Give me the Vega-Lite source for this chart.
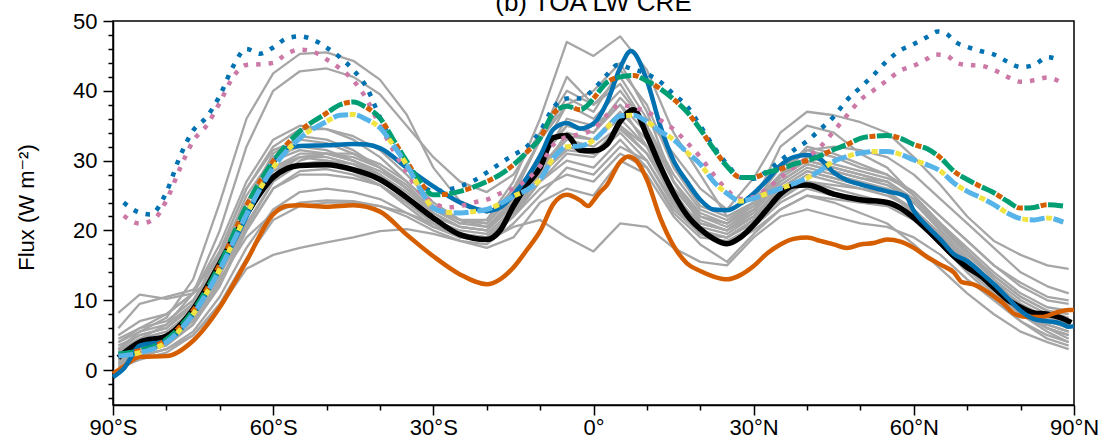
{
"$schema": "https://vega.github.io/schema/vega-lite/v6.json",
"width": 961, "height": 384,
"autosize": {"type": "none"},
"padding": {"left": 113, "top": 21, "right": 30, "bottom": 38},
"background": "white",
"title": {"text": "(b) TOA LW CRE", "fontSize": 26, "font": "Liberation Sans", "fontWeight": "normal", "color": "black", "anchor": "middle", "offset": -27, "baseline": "alphabetic"},
"config": {"view": {"stroke": "black", "strokeWidth": 1.5}, "font": "Liberation Sans"},
"datasets": {
"K": [{"x":-89,"y":1.8},{"x":-85,"y":4.0},{"x":-80,"y":4.9},{"x":-75,"y":8.7},{"x":-70,"y":15.3},{"x":-65,"y":22.3},{"x":-60,"y":27.6},{"x":-55,"y":29.3},{"x":-50,"y":29.4},{"x":-45,"y":28.7},{"x":-40,"y":27.3},{"x":-35,"y":24.7},{"x":-30,"y":21.8},{"x":-25,"y":19.4},{"x":-20,"y":18.7},{"x":-17.5,"y":20},{"x":-15,"y":23.5},{"x":-12.5,"y":26.5},{"x":-10,"y":29},{"x":-7.5,"y":33.3},{"x":-5,"y":33.6},{"x":-2.5,"y":31.5},{"x":0,"y":31.4},{"x":2.5,"y":32.3},{"x":5,"y":35.6},{"x":7.5,"y":37.3},{"x":10,"y":33.6},{"x":12.5,"y":29.2},{"x":15,"y":25.3},{"x":17.5,"y":22.2},{"x":20,"y":20.2},{"x":22.5,"y":18.8},{"x":25,"y":18.1},{"x":27.5,"y":19},{"x":30,"y":20.8},{"x":32.5,"y":23},{"x":35,"y":25.2},{"x":37.5,"y":26.4},{"x":40,"y":26.5},{"x":45,"y":25.2},{"x":50,"y":24.4},{"x":55,"y":24},{"x":57.5,"y":23.2},{"x":60,"y":21.8},{"x":62.5,"y":20.1},{"x":65,"y":18.2},{"x":67.5,"y":16.3},{"x":70,"y":14.7},{"x":72.5,"y":13.5},{"x":75,"y":11.8},{"x":77.5,"y":10.1},{"x":80,"y":9.0},{"x":82.5,"y":8.2},{"x":85,"y":8.0},{"x":87.5,"y":7.5},{"x":89.5,"y":6.8}],
"B": [{"x":-90,"y":-1.0},{"x":-88,"y":0.2},{"x":-85,"y":3.5},{"x":-80,"y":4.2},{"x":-75,"y":8},{"x":-70,"y":14.5},{"x":-65,"y":22},{"x":-62.5,"y":26},{"x":-60,"y":29.6},{"x":-57.5,"y":31.8},{"x":-55,"y":32.1},{"x":-50,"y":32.2},{"x":-45,"y":32.4},{"x":-42.5,"y":32.3},{"x":-40,"y":31.8},{"x":-35,"y":29},{"x":-30,"y":26.3},{"x":-25,"y":24},{"x":-20,"y":22.8},{"x":-17.5,"y":23.3},{"x":-15,"y":25.1},{"x":-12.5,"y":27.5},{"x":-10,"y":30.6},{"x":-7.5,"y":34.5},{"x":-5,"y":35.4},{"x":-2.5,"y":34.6},{"x":0,"y":35.3},{"x":2.5,"y":38.3},{"x":5,"y":43.3},{"x":7,"y":45.7},{"x":10,"y":41.5},{"x":12.5,"y":35},{"x":15,"y":30},{"x":17.5,"y":27},{"x":20,"y":24.4},{"x":22.5,"y":23},{"x":25,"y":22.9},{"x":27.5,"y":23.8},{"x":30,"y":25.3},{"x":32.5,"y":27.2},{"x":35,"y":29.3},{"x":37.5,"y":30.5},{"x":40,"y":30.8},{"x":42.5,"y":30.2},{"x":45,"y":28.3},{"x":47.5,"y":27.2},{"x":50,"y":26.6},{"x":55,"y":25.6},{"x":58.5,"y":24.9},{"x":60,"y":22.8},{"x":62.5,"y":20.6},{"x":65,"y":18.7},{"x":67.5,"y":16.6},{"x":70,"y":15.6},{"x":72.5,"y":14},{"x":75,"y":12.3},{"x":77.5,"y":10.4},{"x":80,"y":8.5},{"x":82.5,"y":7.3},{"x":85,"y":7.0},{"x":87.5,"y":6.7},{"x":89,"y":6.2},{"x":90,"y":6.3}],
"O": [{"x":-90,"y":-0.5},{"x":-88,"y":0.5},{"x":-85,"y":1.9},{"x":-80,"y":2.0},{"x":-75,"y":4.2},{"x":-70,"y":9.0},{"x":-65,"y":15.6},{"x":-60,"y":22.3},{"x":-57.5,"y":23.5},{"x":-55,"y":23.6},{"x":-50,"y":23.4},{"x":-45,"y":23.6},{"x":-40,"y":22.7},{"x":-35,"y":19.4},{"x":-30,"y":16.3},{"x":-25,"y":13.7},{"x":-20,"y":12.3},{"x":-17.5,"y":13},{"x":-15,"y":14.7},{"x":-12.5,"y":17.2},{"x":-10,"y":19.9},{"x":-7.5,"y":23.8},{"x":-5,"y":25.1},{"x":-2.5,"y":24.3},{"x":-1,"y":23.5},{"x":0,"y":24.3},{"x":1,"y":25.3},{"x":2.5,"y":26.5},{"x":5,"y":29.8},{"x":6.5,"y":30.6},{"x":8,"y":30.0},{"x":10,"y":27.3},{"x":12.5,"y":21.8},{"x":15,"y":17.8},{"x":17.5,"y":15.3},{"x":20,"y":14.2},{"x":22.5,"y":13.4},{"x":25,"y":13},{"x":27.5,"y":13.6},{"x":30,"y":14.9},{"x":32.5,"y":16.7},{"x":35,"y":18},{"x":37.5,"y":18.8},{"x":40,"y":19},{"x":42.5,"y":18.5},{"x":45,"y":18},{"x":47.5,"y":17.5},{"x":50,"y":18},{"x":52.5,"y":18.2},{"x":55,"y":18.7},{"x":57.5,"y":18.4},{"x":60,"y":17.5},{"x":62.5,"y":16.2},{"x":65,"y":15.1},{"x":67.5,"y":14},{"x":69,"y":12.6},{"x":71,"y":12.3},{"x":74,"y":11.1},{"x":76.5,"y":9.7},{"x":79,"y":8},{"x":81.5,"y":7.6},{"x":84,"y":7.6},{"x":86.5,"y":8.2},{"x":89,"y":8.6},{"x":90,"y":8.6}],
"UD": [{"x":-89,"y":2.3},{"x":-85,"y":2.8},{"x":-80,"y":4.4},{"x":-75,"y":8.5},{"x":-70,"y":15.1},{"x":-65,"y":23.5},{"x":-60,"y":29.9},{"x":-55,"y":34.2},{"x":-50,"y":36.8},{"x":-47.5,"y":38},{"x":-45,"y":38.4},{"x":-42.5,"y":37.6},{"x":-40,"y":36.1},{"x":-37.5,"y":33},{"x":-35,"y":29.9},{"x":-32.5,"y":27},{"x":-30,"y":25.1},{"x":-27.5,"y":25.2},{"x":-25,"y":25.6},{"x":-22.5,"y":26.2},{"x":-20,"y":27},{"x":-17.5,"y":28},{"x":-15,"y":29.4},{"x":-12.5,"y":31.2},{"x":-10,"y":33.2},{"x":-7.5,"y":36.8},{"x":-5,"y":37.8},{"x":-2.5,"y":37.3},{"x":-1,"y":38},{"x":0,"y":38.9},{"x":2.5,"y":41.2},{"x":5,"y":42},{"x":7.5,"y":42.2},{"x":10,"y":41.4},{"x":12.5,"y":40.3},{"x":15,"y":38.8},{"x":17.5,"y":37},{"x":20,"y":34.5},{"x":22.5,"y":31.7},{"x":25,"y":29.2},{"x":27.5,"y":27.6},{"x":30,"y":27.6},{"x":32.5,"y":28.3},{"x":35,"y":28.8},{"x":37.5,"y":29.5},{"x":40,"y":30},{"x":42.5,"y":30.7},{"x":45,"y":31.6},{"x":47.5,"y":32.3},{"x":50,"y":33.2},{"x":52.5,"y":33.5},{"x":55,"y":33.6},{"x":57.5,"y":33.2},{"x":60,"y":32.3},{"x":62.5,"y":31.7},{"x":65,"y":30.4},{"x":67.5,"y":28.5},{"x":70,"y":27.3},{"x":72.5,"y":26.3},{"x":75,"y":25.4},{"x":77.5,"y":24.2},{"x":80,"y":23.2},{"x":82.5,"y":23.3},{"x":85,"y":23.7},{"x":88,"y":23.5}],
"LD": [{"x":-89,"y":2.0},{"x":-85,"y":2.5},{"x":-80,"y":4.0},{"x":-75,"y":8},{"x":-70,"y":14.4},{"x":-65,"y":22.3},{"x":-60,"y":29},{"x":-55,"y":33.2},{"x":-50,"y":35.6},{"x":-47.5,"y":36.5},{"x":-45,"y":36.6},{"x":-42.5,"y":35.9},{"x":-40,"y":34.7},{"x":-37.5,"y":32.2},{"x":-35,"y":29.4},{"x":-32.5,"y":26},{"x":-30,"y":23.2},{"x":-27.5,"y":22.6},{"x":-25,"y":22.5},{"x":-22.5,"y":22.7},{"x":-20,"y":23},{"x":-17.5,"y":23.8},{"x":-15,"y":24.9},{"x":-12.5,"y":25.8},{"x":-10,"y":27.3},{"x":-7.5,"y":30.4},{"x":-5,"y":32},{"x":-2.5,"y":32.1},{"x":0,"y":32.9},{"x":2.5,"y":34.7},{"x":5,"y":36.4},{"x":7.5,"y":36.5},{"x":10,"y":35.6},{"x":12.5,"y":34.2},{"x":15,"y":33},{"x":17.5,"y":31.2},{"x":20,"y":29.5},{"x":22.5,"y":27},{"x":25,"y":25.3},{"x":27.5,"y":24.2},{"x":30,"y":24.6},{"x":32.5,"y":25.3},{"x":35,"y":26},{"x":37.5,"y":26.7},{"x":40,"y":27.5},{"x":42.5,"y":28.6},{"x":45,"y":29.9},{"x":47.5,"y":30.6},{"x":50,"y":31.1},{"x":52.5,"y":31.3},{"x":55,"y":31.3},{"x":57.5,"y":30.9},{"x":60,"y":30.1},{"x":62.5,"y":29.4},{"x":65,"y":28.5},{"x":67.5,"y":26.8},{"x":70,"y":25.6},{"x":72.5,"y":24.7},{"x":75,"y":23.7},{"x":77.5,"y":22.5},{"x":80,"y":21.7},{"x":82.5,"y":21.5},{"x":85,"y":21.8},{"x":88,"y":21.2}],
"BD": [{"x":-88,"y":24.0},{"x":-85.5,"y":22.7},{"x":-83,"y":22.3},{"x":-80,"y":25.5},{"x":-77.5,"y":30.5},{"x":-75,"y":34.3},{"x":-72.5,"y":36.2},{"x":-70,"y":39.3},{"x":-67.5,"y":43.5},{"x":-65,"y":46.0},{"x":-62.5,"y":45.3},{"x":-60,"y":46.2},{"x":-57.5,"y":47.5},{"x":-55,"y":47.8},{"x":-52.5,"y":47.3},{"x":-50,"y":46.2},{"x":-47.5,"y":44.8},{"x":-45,"y":43},{"x":-42.5,"y":40.5},{"x":-40,"y":36.2},{"x":-37.5,"y":32.5},{"x":-35,"y":29.5},{"x":-32.5,"y":26.8},{"x":-30,"y":25.6},{"x":-27.5,"y":25.8},{"x":-25,"y":26.3},{"x":-22.5,"y":27.1},{"x":-20,"y":28.3},{"x":-17.5,"y":29.6},{"x":-15,"y":30.8},{"x":-12.5,"y":32},{"x":-10,"y":34.2},{"x":-7.5,"y":37.6},{"x":-5,"y":38.9},{"x":-2.5,"y":38.9},{"x":0,"y":40.2},{"x":2.5,"y":42.3},{"x":4.5,"y":43.7},{"x":7,"y":43.2},{"x":10,"y":42.4},{"x":12.5,"y":41.3},{"x":15,"y":39.5},{"x":17.5,"y":37.8},{"x":20,"y":35},{"x":22.5,"y":32},{"x":25,"y":29.5},{"x":27.5,"y":27.6},{"x":30,"y":27.4},{"x":32.5,"y":28.5},{"x":35,"y":30},{"x":37.5,"y":31.5},{"x":40,"y":32.8},{"x":42.5,"y":34.5},{"x":45,"y":36.3},{"x":47.5,"y":38.7},{"x":50,"y":40.5},{"x":52.5,"y":42.3},{"x":55,"y":44.3},{"x":57.5,"y":45.8},{"x":60,"y":46.7},{"x":62.5,"y":47.7},{"x":64.5,"y":48.5},{"x":66,"y":48.2},{"x":68,"y":46.9},{"x":70,"y":46.3},{"x":72.5,"y":45.7},{"x":75,"y":45.2},{"x":77.5,"y":44.2},{"x":80,"y":43.4},{"x":82.5,"y":43.7},{"x":85,"y":44.8},{"x":87.5,"y":44.4}],
"PD": [{"x":-88,"y":22.1},{"x":-85,"y":21.0},{"x":-82.5,"y":21.5},{"x":-80,"y":24.3},{"x":-77.5,"y":28.8},{"x":-75,"y":32.8},{"x":-72.5,"y":35.0},{"x":-70,"y":38.3},{"x":-67.5,"y":42.0},{"x":-65,"y":43.7},{"x":-62.5,"y":43.8},{"x":-60,"y":44.0},{"x":-57.5,"y":45.3},{"x":-55,"y":45.9},{"x":-52.5,"y":45.6},{"x":-50,"y":44.5},{"x":-47.5,"y":43.2},{"x":-45,"y":41.5},{"x":-42.5,"y":38.8},{"x":-40,"y":35},{"x":-37.5,"y":31.5},{"x":-35,"y":28.3},{"x":-32.5,"y":25.5},{"x":-30,"y":24.0},{"x":-27.5,"y":23.3},{"x":-25,"y":23.5},{"x":-22.5,"y":24},{"x":-20,"y":24.4},{"x":-17.5,"y":25.3},{"x":-15,"y":26},{"x":-12.5,"y":27.3},{"x":-10,"y":29.2},{"x":-7.5,"y":32.3},{"x":-5,"y":33.4},{"x":-2.5,"y":33.8},{"x":0,"y":34.5},{"x":2.5,"y":36.5},{"x":5,"y":38},{"x":7.5,"y":37.6},{"x":10,"y":37},{"x":12.5,"y":35.8},{"x":15,"y":34.5},{"x":17.5,"y":32.6},{"x":20,"y":30.5},{"x":22.5,"y":28},{"x":25,"y":25.8},{"x":27.5,"y":24.5},{"x":30,"y":24.8},{"x":32.5,"y":26},{"x":35,"y":27.5},{"x":37.5,"y":29},{"x":40,"y":30.4},{"x":42.5,"y":32},{"x":45,"y":34.2},{"x":47.5,"y":36.5},{"x":50,"y":38.7},{"x":52.5,"y":40.1},{"x":55,"y":41.5},{"x":57.5,"y":42.9},{"x":60,"y":43.6},{"x":62.5,"y":44.6},{"x":64,"y":45.2},{"x":66,"y":45.1},{"x":68,"y":44},{"x":70,"y":43.7},{"x":72.5,"y":43.6},{"x":75,"y":43.0},{"x":77.5,"y":42},{"x":80,"y":41.3},{"x":82.5,"y":41.5},{"x":85,"y":41.9},{"x":87.8,"y":41.1}],
"G": [
{"s":1,"x":-89,"y":3.0},{"s":1,"x":-85,"y":5.5},{"s":1,"x":-80,"y":7.5},{"s":1,"x":-75,"y":13},{"s":1,"x":-70,"y":24},{"s":1,"x":-65,"y":36},{"s":1,"x":-60,"y":42.5},{"s":1,"x":-55,"y":45.3},{"s":1,"x":-50,"y":45.5},{"s":1,"x":-45,"y":44.3},{"s":1,"x":-40,"y":41.6},{"s":1,"x":-35,"y":36.6},{"s":1,"x":-30,"y":29},{"s":1,"x":-25,"y":24.2},{"s":1,"x":-20,"y":22.5},{"s":1,"x":-15,"y":25},{"s":1,"x":-10,"y":30},{"s":1,"x":-5,"y":36},{"s":1,"x":0,"y":35},{"s":1,"x":5,"y":38},{"s":1,"x":10,"y":32},{"s":1,"x":15,"y":26},{"s":1,"x":20,"y":22},{"s":1,"x":25,"y":21},{"s":1,"x":30,"y":24},{"s":1,"x":35,"y":32},{"s":1,"x":40,"y":35},{"s":1,"x":45,"y":34},{"s":1,"x":50,"y":31},{"s":1,"x":55,"y":29},{"s":1,"x":60,"y":25},{"s":1,"x":65,"y":21},{"s":1,"x":70,"y":17},{"s":1,"x":75,"y":13},{"s":1,"x":80,"y":9},{"s":1,"x":85,"y":6},{"s":1,"x":89,"y":4.5},
{"s":2,"x":-89,"y":2.5},{"s":2,"x":-85,"y":4.5},{"s":2,"x":-80,"y":6.5},{"s":2,"x":-75,"y":11},{"s":2,"x":-70,"y":20},{"s":2,"x":-65,"y":32},{"s":2,"x":-60,"y":40},{"s":2,"x":-55,"y":42.8},{"s":2,"x":-50,"y":43.2},{"s":2,"x":-45,"y":42},{"s":2,"x":-40,"y":39.5},{"s":2,"x":-35,"y":35},{"s":2,"x":-30,"y":30.5},{"s":2,"x":-25,"y":27},{"s":2,"x":-20,"y":25.5},{"s":2,"x":-15,"y":28},{"s":2,"x":-10,"y":34},{"s":2,"x":-5,"y":40},{"s":2,"x":0,"y":38},{"s":2,"x":5,"y":42},{"s":2,"x":10,"y":36},{"s":2,"x":15,"y":31},{"s":2,"x":20,"y":26},{"s":2,"x":25,"y":23},{"s":2,"x":30,"y":27.5},{"s":2,"x":35,"y":34},{"s":2,"x":40,"y":37},{"s":2,"x":45,"y":36.5},{"s":2,"x":50,"y":35.5},{"s":2,"x":55,"y":34},{"s":2,"x":60,"y":30.5},{"s":2,"x":65,"y":26.5},{"s":2,"x":70,"y":22},{"s":2,"x":75,"y":18.5},{"s":2,"x":80,"y":16.5},{"s":2,"x":85,"y":15},{"s":2,"x":89,"y":14.5},
{"s":3,"x":-89,"y":4},{"s":3,"x":-85,"y":6},{"s":3,"x":-80,"y":8},{"s":3,"x":-75,"y":11},{"s":3,"x":-70,"y":17},{"s":3,"x":-65,"y":24},{"s":3,"x":-60,"y":29},{"s":3,"x":-55,"y":31},{"s":3,"x":-50,"y":31},{"s":3,"x":-45,"y":30.5},{"s":3,"x":-40,"y":29},{"s":3,"x":-35,"y":26.5},{"s":3,"x":-30,"y":23},{"s":3,"x":-25,"y":21},{"s":3,"x":-20,"y":21.5},{"s":3,"x":-15,"y":27},{"s":3,"x":-10,"y":36},{"s":3,"x":-5,"y":47},{"s":3,"x":0,"y":45},{"s":3,"x":5,"y":47.8},{"s":3,"x":10,"y":43},{"s":3,"x":15,"y":34},{"s":3,"x":20,"y":28},{"s":3,"x":25,"y":22},{"s":3,"x":30,"y":24},{"s":3,"x":35,"y":28},{"s":3,"x":40,"y":30},{"s":3,"x":45,"y":29},{"s":3,"x":50,"y":28},{"s":3,"x":55,"y":27},{"s":3,"x":60,"y":24},{"s":3,"x":65,"y":20},{"s":3,"x":70,"y":16},{"s":3,"x":75,"y":12},{"s":3,"x":80,"y":8.5},{"s":3,"x":85,"y":6},{"s":3,"x":89,"y":5},
{"s":4,"x":-89,"y":1.5},{"s":4,"x":-85,"y":3},{"s":4,"x":-80,"y":4},{"s":4,"x":-75,"y":7},{"s":4,"x":-70,"y":13},{"s":4,"x":-65,"y":19},{"s":4,"x":-60,"y":22.5},{"s":4,"x":-55,"y":24},{"s":4,"x":-50,"y":24.3},{"s":4,"x":-45,"y":24.2},{"s":4,"x":-40,"y":23.5},{"s":4,"x":-35,"y":22.5},{"s":4,"x":-30,"y":21},{"s":4,"x":-25,"y":19.5},{"s":4,"x":-20,"y":18.5},{"s":4,"x":-15,"y":20.5},{"s":4,"x":-10,"y":21.5},{"s":4,"x":-5,"y":19},{"s":4,"x":0,"y":17},{"s":4,"x":5,"y":21},{"s":4,"x":10,"y":20.5},{"s":4,"x":15,"y":17.5},{"s":4,"x":20,"y":15.5},{"s":4,"x":25,"y":15},{"s":4,"x":30,"y":19},{"s":4,"x":35,"y":22},{"s":4,"x":40,"y":23},{"s":4,"x":45,"y":22},{"s":4,"x":50,"y":21},{"s":4,"x":55,"y":20.5},{"s":4,"x":60,"y":19},{"s":4,"x":65,"y":16.5},{"s":4,"x":70,"y":13},{"s":4,"x":75,"y":10},{"s":4,"x":80,"y":7},{"s":4,"x":85,"y":5},{"s":4,"x":89,"y":4},
{"s":5,"x":-89,"y":0.5},{"s":5,"x":-85,"y":2},{"s":5,"x":-80,"y":3},{"s":5,"x":-75,"y":5},{"s":5,"x":-70,"y":9},{"s":5,"x":-65,"y":14.5},{"s":5,"x":-60,"y":16.5},{"s":5,"x":-55,"y":17.5},{"s":5,"x":-50,"y":18.3},{"s":5,"x":-45,"y":19},{"s":5,"x":-40,"y":19.9},{"s":5,"x":-35,"y":20.2},{"s":5,"x":-30,"y":19.5},{"s":5,"x":-25,"y":18.5},{"s":5,"x":-20,"y":17.5},{"s":5,"x":-15,"y":19},{"s":5,"x":-10,"y":24},{"s":5,"x":-5,"y":26},{"s":5,"x":0,"y":25},{"s":5,"x":5,"y":30},{"s":5,"x":10,"y":28},{"s":5,"x":15,"y":22},{"s":5,"x":20,"y":18},{"s":5,"x":25,"y":15.5},{"s":5,"x":30,"y":19.5},{"s":5,"x":35,"y":23},{"s":5,"x":40,"y":25},{"s":5,"x":45,"y":24},{"s":5,"x":50,"y":22.5},{"s":5,"x":55,"y":21},{"s":5,"x":60,"y":18},{"s":5,"x":65,"y":14.5},{"s":5,"x":70,"y":11},{"s":5,"x":75,"y":8},{"s":5,"x":80,"y":5.5},{"s":5,"x":85,"y":4},{"s":5,"x":89,"y":3},
{"s":6,"x":-89,"y":6},{"s":6,"x":-85,"y":9.5},{"s":6,"x":-80,"y":10.5},{"s":6,"x":-75,"y":11.5},{"s":6,"x":-70,"y":16},{"s":6,"x":-65,"y":24},{"s":6,"x":-60,"y":31},{"s":6,"x":-55,"y":33.5},{"s":6,"x":-50,"y":33},{"s":6,"x":-45,"y":31.5},{"s":6,"x":-40,"y":29},{"s":6,"x":-35,"y":26},{"s":6,"x":-30,"y":23},{"s":6,"x":-25,"y":21},{"s":6,"x":-20,"y":20.5},{"s":6,"x":-15,"y":24},{"s":6,"x":-10,"y":31},{"s":6,"x":-5,"y":38},{"s":6,"x":0,"y":40},{"s":6,"x":5,"y":44},{"s":6,"x":10,"y":37},{"s":6,"x":15,"y":27},{"s":6,"x":20,"y":21},{"s":6,"x":25,"y":20},{"s":6,"x":30,"y":23},{"s":6,"x":35,"y":28},{"s":6,"x":40,"y":32},{"s":6,"x":45,"y":31},{"s":6,"x":50,"y":29.5},{"s":6,"x":55,"y":28},{"s":6,"x":60,"y":25.5},{"s":6,"x":65,"y":22},{"s":6,"x":70,"y":18.5},{"s":6,"x":75,"y":15},{"s":6,"x":80,"y":12},{"s":6,"x":85,"y":10},{"s":6,"x":89,"y":9.5},
{"s":7,"x":-89,"y":8.2},{"s":7,"x":-85,"y":10.8},{"s":7,"x":-80,"y":10.2},{"s":7,"x":-75,"y":11},{"s":7,"x":-70,"y":14},{"s":7,"x":-65,"y":20},{"s":7,"x":-60,"y":26},{"s":7,"x":-55,"y":28},{"s":7,"x":-50,"y":28},{"s":7,"x":-45,"y":27.5},{"s":7,"x":-40,"y":26.5},{"s":7,"x":-35,"y":24},{"s":7,"x":-30,"y":21},{"s":7,"x":-25,"y":19},{"s":7,"x":-20,"y":19},{"s":7,"x":-15,"y":22.5},{"s":7,"x":-10,"y":28},{"s":7,"x":-5,"y":34},{"s":7,"x":0,"y":33},{"s":7,"x":5,"y":36},{"s":7,"x":10,"y":32},{"s":7,"x":15,"y":24},{"s":7,"x":20,"y":19.5},{"s":7,"x":25,"y":19},{"s":7,"x":30,"y":21.5},{"s":7,"x":35,"y":25},{"s":7,"x":40,"y":27},{"s":7,"x":45,"y":26},{"s":7,"x":50,"y":25},{"s":7,"x":55,"y":24},{"s":7,"x":60,"y":22},{"s":7,"x":65,"y":19},{"s":7,"x":70,"y":15.5},{"s":7,"x":75,"y":12},{"s":7,"x":80,"y":9},{"s":7,"x":85,"y":7.5},{"s":7,"x":89,"y":7},
{"s":8,"x":-89,"y":1},{"s":8,"x":-85,"y":2.5},{"s":8,"x":-80,"y":3.5},{"s":8,"x":-75,"y":6.5},{"s":8,"x":-70,"y":12},{"s":8,"x":-65,"y":20},{"s":8,"x":-60,"y":26},{"s":8,"x":-55,"y":28.5},{"s":8,"x":-50,"y":28.8},{"s":8,"x":-45,"y":28},{"s":8,"x":-40,"y":26.5},{"s":8,"x":-35,"y":24},{"s":8,"x":-30,"y":21.5},{"s":8,"x":-25,"y":20},{"s":8,"x":-20,"y":19.5},{"s":8,"x":-15,"y":23},{"s":8,"x":-10,"y":28},{"s":8,"x":-5,"y":32},{"s":8,"x":0,"y":31},{"s":8,"x":5,"y":35},{"s":8,"x":10,"y":31},{"s":8,"x":15,"y":25},{"s":8,"x":20,"y":21},{"s":8,"x":25,"y":20},{"s":8,"x":30,"y":22},{"s":8,"x":35,"y":26},{"s":8,"x":40,"y":28.5},{"s":8,"x":45,"y":27.5},{"s":8,"x":50,"y":26.5},{"s":8,"x":55,"y":25.5},{"s":8,"x":60,"y":22.5},{"s":8,"x":65,"y":18.5},{"s":8,"x":70,"y":14.5},{"s":8,"x":75,"y":11},{"s":8,"x":80,"y":8},{"s":8,"x":85,"y":6},{"s":8,"x":89,"y":5},
{"s":9,"x":-89,"y":2},{"s":9,"x":-85,"y":4},{"s":9,"x":-80,"y":5},{"s":9,"x":-75,"y":8},{"s":9,"x":-70,"y":14.5},{"s":9,"x":-65,"y":23},{"s":9,"x":-60,"y":28.5},{"s":9,"x":-55,"y":30.5},{"s":9,"x":-50,"y":30.5},{"s":9,"x":-45,"y":29.5},{"s":9,"x":-40,"y":27.5},{"s":9,"x":-35,"y":25},{"s":9,"x":-30,"y":22},{"s":9,"x":-25,"y":20.5},{"s":9,"x":-20,"y":20},{"s":9,"x":-15,"y":24},{"s":9,"x":-10,"y":30},{"s":9,"x":-5,"y":35},{"s":9,"x":0,"y":34},{"s":9,"x":5,"y":38},{"s":9,"x":10,"y":34},{"s":9,"x":15,"y":27},{"s":9,"x":20,"y":22.5},{"s":9,"x":25,"y":21},{"s":9,"x":30,"y":23},{"s":9,"x":35,"y":27},{"s":9,"x":40,"y":29.5},{"s":9,"x":45,"y":28.5},{"s":9,"x":50,"y":27.5},{"s":9,"x":55,"y":26.5},{"s":9,"x":60,"y":24},{"s":9,"x":65,"y":20},{"s":9,"x":70,"y":16},{"s":9,"x":75,"y":12.5},{"s":9,"x":80,"y":9.5},{"s":9,"x":85,"y":7.5},{"s":9,"x":89,"y":6.5},
{"s":10,"x":-89,"y":3},{"s":10,"x":-85,"y":5},{"s":10,"x":-80,"y":6},{"s":10,"x":-75,"y":9},{"s":10,"x":-70,"y":16},{"s":10,"x":-65,"y":25},{"s":10,"x":-60,"y":30.5},{"s":10,"x":-55,"y":32},{"s":10,"x":-50,"y":31.5},{"s":10,"x":-45,"y":30},{"s":10,"x":-40,"y":28},{"s":10,"x":-35,"y":24.5},{"s":10,"x":-30,"y":21},{"s":10,"x":-25,"y":19},{"s":10,"x":-20,"y":18.5},{"s":10,"x":-15,"y":22},{"s":10,"x":-10,"y":27},{"s":10,"x":-5,"y":30},{"s":10,"x":0,"y":29},{"s":10,"x":5,"y":33},{"s":10,"x":10,"y":29},{"s":10,"x":15,"y":22.5},{"s":10,"x":20,"y":19},{"s":10,"x":25,"y":18.5},{"s":10,"x":30,"y":20.5},{"s":10,"x":35,"y":24},{"s":10,"x":40,"y":26},{"s":10,"x":45,"y":25},{"s":10,"x":50,"y":24.5},{"s":10,"x":55,"y":24},{"s":10,"x":60,"y":22},{"s":10,"x":65,"y":18.5},{"s":10,"x":70,"y":15},{"s":10,"x":75,"y":11.5},{"s":10,"x":80,"y":8.5},{"s":10,"x":85,"y":6.5},{"s":10,"x":89,"y":5.5},
{"s":11,"x":-89,"y":0.8},{"s":11,"x":-85,"y":2},{"s":11,"x":-80,"y":3},{"s":11,"x":-75,"y":5.5},{"s":11,"x":-70,"y":10.5},{"s":11,"x":-65,"y":17.5},{"s":11,"x":-60,"y":23},{"s":11,"x":-55,"y":25.5},{"s":11,"x":-50,"y":26},{"s":11,"x":-45,"y":25.5},{"s":11,"x":-40,"y":24.5},{"s":11,"x":-35,"y":22.5},{"s":11,"x":-30,"y":20.5},{"s":11,"x":-25,"y":19.5},{"s":11,"x":-20,"y":19},{"s":11,"x":-15,"y":22},{"s":11,"x":-10,"y":26},{"s":11,"x":-5,"y":28},{"s":11,"x":0,"y":27},{"s":11,"x":5,"y":31},{"s":11,"x":10,"y":29},{"s":11,"x":15,"y":23},{"s":11,"x":20,"y":19.5},{"s":11,"x":25,"y":19},{"s":11,"x":30,"y":21},{"s":11,"x":35,"y":24.5},{"s":11,"x":40,"y":27},{"s":11,"x":45,"y":26.5},{"s":11,"x":50,"y":26},{"s":11,"x":55,"y":25.5},{"s":11,"x":60,"y":23},{"s":11,"x":65,"y":19.5},{"s":11,"x":70,"y":15.5},{"s":11,"x":75,"y":11.5},{"s":11,"x":80,"y":8},{"s":11,"x":85,"y":5.5},{"s":11,"x":89,"y":4},
{"s":12,"x":-89,"y":5},{"s":12,"x":-85,"y":7},{"s":12,"x":-80,"y":8},{"s":12,"x":-75,"y":11},{"s":12,"x":-70,"y":18},{"s":12,"x":-65,"y":27},{"s":12,"x":-60,"y":33},{"s":12,"x":-55,"y":35},{"s":12,"x":-50,"y":34.5},{"s":12,"x":-45,"y":33},{"s":12,"x":-40,"y":30.5},{"s":12,"x":-35,"y":27},{"s":12,"x":-30,"y":23.5},{"s":12,"x":-25,"y":21.5},{"s":12,"x":-20,"y":21},{"s":12,"x":-15,"y":25},{"s":12,"x":-10,"y":33},{"s":12,"x":-5,"y":42},{"s":12,"x":0,"y":38},{"s":12,"x":5,"y":41},{"s":12,"x":10,"y":35},{"s":12,"x":15,"y":27},{"s":12,"x":20,"y":22},{"s":12,"x":25,"y":21},{"s":12,"x":30,"y":23.5},{"s":12,"x":35,"y":28},{"s":12,"x":40,"y":31.5},{"s":12,"x":45,"y":32},{"s":12,"x":50,"y":31.5},{"s":12,"x":55,"y":30.5},{"s":12,"x":60,"y":28},{"s":12,"x":65,"y":24.5},{"s":12,"x":70,"y":21},{"s":12,"x":75,"y":17.5},{"s":12,"x":80,"y":14},{"s":12,"x":85,"y":12},{"s":12,"x":89,"y":11},
{"s":13,"x":-89,"y":2.2},{"s":13,"x":-85,"y":3.5},{"s":13,"x":-80,"y":4.5},{"s":13,"x":-75,"y":7.5},{"s":13,"x":-70,"y":13.5},{"s":13,"x":-65,"y":21},{"s":13,"x":-60,"y":27},{"s":13,"x":-55,"y":29.5},{"s":13,"x":-50,"y":30},{"s":13,"x":-45,"y":29.5},{"s":13,"x":-40,"y":28},{"s":13,"x":-35,"y":25.5},{"s":13,"x":-30,"y":22.5},{"s":13,"x":-25,"y":20.5},{"s":13,"x":-20,"y":20},{"s":13,"x":-15,"y":23.5},{"s":13,"x":-10,"y":29},{"s":13,"x":-5,"y":33},{"s":13,"x":0,"y":32},{"s":13,"x":5,"y":35},{"s":13,"x":10,"y":32},{"s":13,"x":15,"y":26},{"s":13,"x":20,"y":21.5},{"s":13,"x":25,"y":20},{"s":13,"x":30,"y":22.5},{"s":13,"x":35,"y":27},{"s":13,"x":40,"y":29.5},{"s":13,"x":45,"y":28.5},{"s":13,"x":50,"y":27.5},{"s":13,"x":55,"y":27},{"s":13,"x":60,"y":24.5},{"s":13,"x":65,"y":20.5},{"s":13,"x":70,"y":16.5},{"s":13,"x":75,"y":13},{"s":13,"x":80,"y":10},{"s":13,"x":85,"y":8},{"s":13,"x":89,"y":7},
{"s":14,"x":-89,"y":4.5},{"s":14,"x":-85,"y":6},{"s":14,"x":-80,"y":7},{"s":14,"x":-75,"y":10},{"s":14,"x":-70,"y":16.5},{"s":14,"x":-65,"y":24},{"s":14,"x":-60,"y":29},{"s":14,"x":-55,"y":30.5},{"s":14,"x":-50,"y":30},{"s":14,"x":-45,"y":28.5},{"s":14,"x":-40,"y":26.5},{"s":14,"x":-35,"y":23.5},{"s":14,"x":-30,"y":20.5},{"s":14,"x":-25,"y":19},{"s":14,"x":-20,"y":19},{"s":14,"x":-15,"y":22.5},{"s":14,"x":-10,"y":27},{"s":14,"x":-5,"y":31},{"s":14,"x":0,"y":30.5},{"s":14,"x":5,"y":34},{"s":14,"x":10,"y":30},{"s":14,"x":15,"y":23.5},{"s":14,"x":20,"y":19.5},{"s":14,"x":25,"y":19},{"s":14,"x":30,"y":21.5},{"s":14,"x":35,"y":25.5},{"s":14,"x":40,"y":28},{"s":14,"x":45,"y":27},{"s":14,"x":50,"y":26},{"s":14,"x":55,"y":25},{"s":14,"x":60,"y":23},{"s":14,"x":65,"y":19.5},{"s":14,"x":70,"y":15.5},{"s":14,"x":75,"y":12},{"s":14,"x":80,"y":9},{"s":14,"x":85,"y":7},{"s":14,"x":89,"y":6},
{"s":15,"x":-89,"y":1.2},{"s":15,"x":-85,"y":2.5},{"s":15,"x":-80,"y":3.8},{"s":15,"x":-75,"y":6.5},{"s":15,"x":-70,"y":12.5},{"s":15,"x":-65,"y":20.5},{"s":15,"x":-60,"y":27},{"s":15,"x":-55,"y":30},{"s":15,"x":-50,"y":31},{"s":15,"x":-45,"y":31},{"s":15,"x":-40,"y":29.5},{"s":15,"x":-35,"y":27},{"s":15,"x":-30,"y":23.5},{"s":15,"x":-25,"y":21.5},{"s":15,"x":-20,"y":21},{"s":15,"x":-15,"y":25.5},{"s":15,"x":-10,"y":33},{"s":15,"x":-5,"y":38},{"s":15,"x":0,"y":36},{"s":15,"x":5,"y":40},{"s":15,"x":10,"y":35},{"s":15,"x":15,"y":28},{"s":15,"x":20,"y":23},{"s":15,"x":25,"y":21.5},{"s":15,"x":30,"y":24},{"s":15,"x":35,"y":29},{"s":15,"x":40,"y":31.5},{"s":15,"x":45,"y":30.5},{"s":15,"x":50,"y":29},{"s":15,"x":55,"y":28},{"s":15,"x":60,"y":25},{"s":15,"x":65,"y":21},{"s":15,"x":70,"y":17},{"s":15,"x":75,"y":13.5},{"s":15,"x":80,"y":10.5},{"s":15,"x":85,"y":8.5},{"s":15,"x":89,"y":7.5},
{"s":16,"x":-89,"y":3.5},{"s":16,"x":-85,"y":5},{"s":16,"x":-80,"y":6},{"s":16,"x":-75,"y":9.5},{"s":16,"x":-70,"y":17},{"s":16,"x":-65,"y":26},{"s":16,"x":-60,"y":31.5},{"s":16,"x":-55,"y":33},{"s":16,"x":-50,"y":32.5},{"s":16,"x":-45,"y":31},{"s":16,"x":-40,"y":29},{"s":16,"x":-35,"y":26},{"s":16,"x":-30,"y":22.5},{"s":16,"x":-25,"y":20.5},{"s":16,"x":-20,"y":20},{"s":16,"x":-15,"y":24},{"s":16,"x":-10,"y":29},{"s":16,"x":-5,"y":33.5},{"s":16,"x":0,"y":33},{"s":16,"x":5,"y":37},{"s":16,"x":10,"y":33},{"s":16,"x":15,"y":25.5},{"s":16,"x":20,"y":20.5},{"s":16,"x":25,"y":19.5},{"s":16,"x":30,"y":22},{"s":16,"x":35,"y":26.5},{"s":16,"x":40,"y":29},{"s":16,"x":45,"y":28},{"s":16,"x":50,"y":27},{"s":16,"x":55,"y":26},{"s":16,"x":60,"y":24},{"s":16,"x":65,"y":20.5},{"s":16,"x":70,"y":17},{"s":16,"x":75,"y":13.5},{"s":16,"x":80,"y":10.5},{"s":16,"x":85,"y":8.5},{"s":16,"x":89,"y":8},
{"s":17,"x":-89,"y":0.3},{"s":17,"x":-85,"y":1.5},{"s":17,"x":-80,"y":2.5},{"s":17,"x":-75,"y":5},{"s":17,"x":-70,"y":9.5},{"s":17,"x":-65,"y":16},{"s":17,"x":-60,"y":21.5},{"s":17,"x":-55,"y":23.5},{"s":17,"x":-50,"y":24},{"s":17,"x":-45,"y":24},{"s":17,"x":-40,"y":23.5},{"s":17,"x":-35,"y":22},{"s":17,"x":-30,"y":20},{"s":17,"x":-25,"y":18.5},{"s":17,"x":-20,"y":18},{"s":17,"x":-15,"y":21},{"s":17,"x":-10,"y":25},{"s":17,"x":-5,"y":29},{"s":17,"x":0,"y":28},{"s":17,"x":5,"y":32},{"s":17,"x":10,"y":30},{"s":17,"x":15,"y":24},{"s":17,"x":20,"y":19.5},{"s":17,"x":25,"y":18},{"s":17,"x":30,"y":20},{"s":17,"x":35,"y":23},{"s":17,"x":40,"y":25},{"s":17,"x":45,"y":24.5},{"s":17,"x":50,"y":24},{"s":17,"x":55,"y":23.5},{"s":17,"x":60,"y":21.5},{"s":17,"x":65,"y":18},{"s":17,"x":70,"y":14},{"s":17,"x":75,"y":10.5},{"s":17,"x":80,"y":7},{"s":17,"x":85,"y":4.5},{"s":17,"x":89,"y":3.5},
{"s":18,"x":-89,"y":2.8},{"s":18,"x":-85,"y":4.5},{"s":18,"x":-80,"y":5.5},{"s":18,"x":-75,"y":8.5},{"s":18,"x":-70,"y":15},{"s":18,"x":-65,"y":24},{"s":18,"x":-60,"y":30},{"s":18,"x":-55,"y":31.5},{"s":18,"x":-50,"y":31},{"s":18,"x":-45,"y":30},{"s":18,"x":-40,"y":28.5},{"s":18,"x":-35,"y":26},{"s":18,"x":-30,"y":23},{"s":18,"x":-25,"y":21.5},{"s":18,"x":-20,"y":21.5},{"s":18,"x":-15,"y":26},{"s":18,"x":-10,"y":33},{"s":18,"x":-5,"y":39},{"s":18,"x":0,"y":37},{"s":18,"x":5,"y":43},{"s":18,"x":10,"y":38},{"s":18,"x":15,"y":29},{"s":18,"x":20,"y":23.5},{"s":18,"x":25,"y":22},{"s":18,"x":30,"y":24},{"s":18,"x":35,"y":28},{"s":18,"x":40,"y":30.5},{"s":18,"x":45,"y":29.5},{"s":18,"x":50,"y":28.5},{"s":18,"x":55,"y":27.5},{"s":18,"x":60,"y":25.5},{"s":18,"x":65,"y":22},{"s":18,"x":70,"y":18.5},{"s":18,"x":75,"y":15},{"s":18,"x":80,"y":12.5},{"s":18,"x":85,"y":10.5},{"s":18,"x":89,"y":10},
{"s":19,"x":-89,"y":1.5},{"s":19,"x":-85,"y":3},{"s":19,"x":-80,"y":4.5},{"s":19,"x":-75,"y":7.5},{"s":19,"x":-70,"y":14},{"s":19,"x":-65,"y":22},{"s":19,"x":-60,"y":28},{"s":19,"x":-55,"y":30.5},{"s":19,"x":-50,"y":31},{"s":19,"x":-45,"y":30},{"s":19,"x":-40,"y":28},{"s":19,"x":-35,"y":25},{"s":19,"x":-30,"y":21.5},{"s":19,"x":-25,"y":19.5},{"s":19,"x":-20,"y":19},{"s":19,"x":-15,"y":22.5},{"s":19,"x":-10,"y":28},{"s":19,"x":-5,"y":31.5},{"s":19,"x":0,"y":31},{"s":19,"x":5,"y":34.5},{"s":19,"x":10,"y":31},{"s":19,"x":15,"y":24.5},{"s":19,"x":20,"y":20},{"s":19,"x":25,"y":19},{"s":19,"x":30,"y":21.5},{"s":19,"x":35,"y":26},{"s":19,"x":40,"y":28.5},{"s":19,"x":45,"y":27.5},{"s":19,"x":50,"y":26.5},{"s":19,"x":55,"y":25.5},{"s":19,"x":60,"y":23},{"s":19,"x":65,"y":19},{"s":19,"x":70,"y":15},{"s":19,"x":75,"y":11.5},{"s":19,"x":80,"y":8.5},{"s":19,"x":85,"y":6.5},{"s":19,"x":89,"y":5.5},
{"s":20,"x":-89,"y":4},{"s":20,"x":-85,"y":5.5},{"s":20,"x":-80,"y":6.5},{"s":20,"x":-75,"y":9.5},{"s":20,"x":-70,"y":17},{"s":20,"x":-65,"y":26},{"s":20,"x":-60,"y":32},{"s":20,"x":-55,"y":34.5},{"s":20,"x":-50,"y":34.5},{"s":20,"x":-45,"y":33.5},{"s":20,"x":-40,"y":31.5},{"s":20,"x":-35,"y":28},{"s":20,"x":-30,"y":24},{"s":20,"x":-25,"y":21.5},{"s":20,"x":-20,"y":20.5},{"s":20,"x":-15,"y":24.5},{"s":20,"x":-10,"y":31},{"s":20,"x":-5,"y":35},{"s":20,"x":0,"y":34},{"s":20,"x":5,"y":39},{"s":20,"x":10,"y":35},{"s":20,"x":15,"y":27},{"s":20,"x":20,"y":22},{"s":20,"x":25,"y":20.5},{"s":20,"x":30,"y":23},{"s":20,"x":35,"y":27.5},{"s":20,"x":40,"y":30},{"s":20,"x":45,"y":29},{"s":20,"x":50,"y":28},{"s":20,"x":55,"y":27},{"s":20,"x":60,"y":24.5},{"s":20,"x":65,"y":21},{"s":20,"x":70,"y":17.5},{"s":20,"x":75,"y":14},{"s":20,"x":80,"y":11},{"s":20,"x":85,"y":9},{"s":20,"x":89,"y":8.5}
]
},
"resolve": {"axis": {"x": "independent", "y": "independent"}},
"layer": [
{
"layer": [
{"data": {"name": "G"}, "mark": {"type": "line", "color": "#a6a6a6", "strokeWidth": 2.3, "strokeJoin": "round"},
 "encoding": {
  "x": {"field": "x", "type": "quantitative", "scale": {"domain": [-90, 90], "nice": false, "zero": false},
   "axis": {"orient": "bottom", "values": [-90, -60, -30, 0, 30, 60, 90], "labelExpr": "datum.value == 0 ? '0°' : (abs(datum.value) + '°' + (datum.value < 0 ? 'S' : 'N'))", "title": null, "grid": false, "tickSize": 10, "tickWidth": 1.5, "tickColor": "black", "domainColor": "black", "domainWidth": 1.5, "labelFontSize": 22, "labelFont": "Liberation Sans", "labelColor": "black", "labelPadding": 2, "labelFlush": false, "labelOverlap": false}},
  "y": {"field": "y", "type": "quantitative", "scale": {"domain": [-5, 50], "nice": false, "zero": false},
   "axis": {"orient": "left", "values": [0, 10, 20, 30, 40, 50], "title": "Flux (W m⁻²)", "titleFontSize": 22, "titleFont": "Liberation Sans, DejaVu Sans, Noto Sans", "titleFontWeight": "normal", "titleColor": "black", "titleX": -80, "titleY": 186, "titleAngle": -90, "titleAlign": "center", "titleBaseline": "alphabetic", "grid": false, "tickSize": 10, "tickWidth": 1.5, "tickColor": "black", "domainColor": "black", "domainWidth": 1.5, "labelFontSize": 22, "labelFont": "Liberation Sans", "labelColor": "black", "labelPadding": 6, "labelFlush": false, "labelOverlap": false}},
  "detail": {"field": "s", "type": "nominal"}
 }},
{"data": {"name": "K"}, "mark": {"type": "line", "color": "black", "strokeWidth": 5.5, "interpolate": "monotone", "strokeJoin": "round"}, "encoding": {"x": {"field": "x", "type": "quantitative"}, "y": {"field": "y", "type": "quantitative"}}},
{"data": {"name": "O"}, "mark": {"type": "line", "color": "#D55E00", "strokeWidth": 4.5, "interpolate": "monotone", "strokeJoin": "round"}, "encoding": {"x": {"field": "x", "type": "quantitative"}, "y": {"field": "y", "type": "quantitative"}}},
{"data": {"name": "B"}, "mark": {"type": "line", "color": "#0072B2", "strokeWidth": 4.5, "interpolate": "monotone", "strokeJoin": "round"}, "encoding": {"x": {"field": "x", "type": "quantitative"}, "y": {"field": "y", "type": "quantitative"}}},
{"data": {"name": "PD"}, "mark": {"type": "line", "color": "#CC79A7", "strokeWidth": 4.5, "strokeDash": [4.5, 8], "strokeCap": "butt", "interpolate": "monotone"}, "encoding": {"x": {"field": "x", "type": "quantitative"}, "y": {"field": "y", "type": "quantitative"}}},
{"data": {"name": "BD"}, "mark": {"type": "line", "color": "#0072B2", "strokeWidth": 4.5, "strokeDash": [4.5, 8], "strokeCap": "butt", "interpolate": "monotone"}, "encoding": {"x": {"field": "x", "type": "quantitative"}, "y": {"field": "y", "type": "quantitative"}}},
{"data": {"name": "UD"}, "mark": {"type": "line", "color": "#D55E00", "strokeWidth": 5, "strokeDash": [6, 18], "strokeDashOffset": 7.5, "strokeCap": "butt", "interpolate": "monotone"}, "encoding": {"x": {"field": "x", "type": "quantitative"}, "y": {"field": "y", "type": "quantitative"}}},
{"data": {"name": "UD"}, "mark": {"type": "line", "color": "#009E73", "strokeWidth": 5, "strokeDash": [15, 9], "strokeCap": "butt", "interpolate": "monotone"}, "encoding": {"x": {"field": "x", "type": "quantitative"}, "y": {"field": "y", "type": "quantitative"}}},
{"data": {"name": "LD"}, "mark": {"type": "line", "color": "#F0E442", "strokeWidth": 5, "strokeDash": [6, 18], "strokeDashOffset": 7.5, "strokeCap": "butt", "interpolate": "monotone"}, "encoding": {"x": {"field": "x", "type": "quantitative"}, "y": {"field": "y", "type": "quantitative"}}},
{"data": {"name": "LD"}, "mark": {"type": "line", "color": "#56B4E9", "strokeWidth": 5, "strokeDash": [15, 9], "strokeCap": "butt", "interpolate": "monotone"}, "encoding": {"x": {"field": "x", "type": "quantitative"}, "y": {"field": "y", "type": "quantitative"}}}
]
},
{"data": {"name": "K"}, "mark": {"type": "line", "opacity": 0},
 "encoding": {
  "x": {"field": "x", "type": "quantitative", "scale": {"domain": [-90, 90], "nice": false, "zero": false},
   "axis": {"orient": "bottom", "values": [-80, -70, -50, -40, -20, -10, 10, 20, 40, 50, 70, 80], "labels": false, "domain": false, "grid": false, "title": null, "tickSize": 5, "tickWidth": 1.5, "tickColor": "black"}},
  "y": {"field": "y", "type": "quantitative", "scale": {"domain": [-5, 50], "nice": false, "zero": false},
   "axis": {"orient": "left", "values": [-4, -2, 2, 4, 6, 8, 12, 14, 16, 18, 22, 24, 26, 28, 32, 34, 36, 38, 42, 44, 46, 48], "labels": false, "domain": false, "grid": false, "title": null, "tickSize": 5, "tickWidth": 1.5, "tickColor": "black"}}
 }}
]
}
